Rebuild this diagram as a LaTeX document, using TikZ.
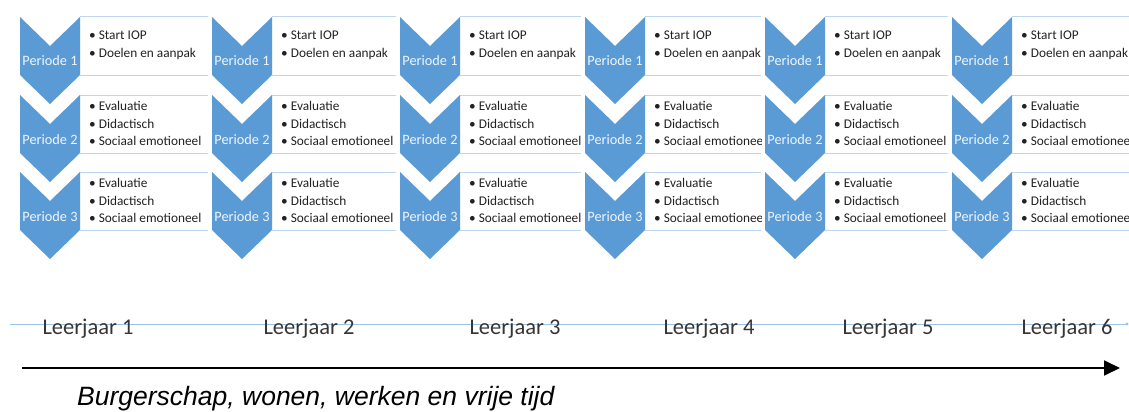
\documentclass[tikz,border=0pt]{standalone}
\usepackage{fontspec}
\setmainfont{Carlito}
\newfontfamily\arialfont{Liberation Sans}
\usetikzlibrary{arrows.meta}
\definecolor{chev}{HTML}{5B9BD5}
\definecolor{boxline}{HTML}{BDD7EE}
\definecolor{axisline}{HTML}{9DC3E6}
\definecolor{ptext}{HTML}{EEF5FC}
\definecolor{ltext}{HTML}{363636}
\definecolor{btext}{HTML}{222222}
\tikzset{
  chevshape/.style={fill=chev, draw=none},
  boxedge/.style={draw=boxline, line width=1pt},
  periodtext/.style={anchor=base, inner sep=0pt, text=ptext, font=\fontsize{14.3}{16}\selectfont},
  bullettext/.style={anchor=base west, inner sep=0pt, text=btext, font=\fontsize{13.3}{16}\selectfont},
  yeartext/.style={anchor=base, inner sep=0pt, text=ltext, font=\fontsize{22.5}{26}\selectfont},
  captiontext/.style={anchor=base west, inner sep=0pt, text=black, font=\arialfont\itshape\fontsize{26.5}{30}\selectfont},
}
\begin{document}
\begin{tikzpicture}[x=1pt,y=-1pt]
\useasboundingbox (0,0) rectangle (1129,412);
\fill[white] (0,0) rectangle (1129,412);
\foreach \L/\R [count=\c] in {20/208, 212/396, 400/581, 585/761, 765/948, 952/1129} {
  % boxes with texts
  \foreach \t/\r in {17/1, 95/2, 172/3} {
    \begin{scope}
      \clip (\L+60, \t-2) rectangle (\R, \t+60);
      \draw[boxedge] (\L+60,\t) -- (\R,\t);
      \draw[boxedge] (\L+60,\t+58) -- (\R,\t+58);
      \ifnum\r=1
        \node[bullettext] (b-\c-\r-1) at (\L+69,\t+23) {\textbullet{} Start IOP};
        \node[bullettext] (b-\c-\r-2) at (\L+69,\t+41) {\textbullet{} Doelen en aanpak};
      \else
        \node[bullettext] (b-\c-\r-1) at (\L+69,\t+15) {\textbullet{} Evaluatie};
        \node[bullettext] (b-\c-\r-2) at (\L+69,\t+33) {\textbullet{} Didactisch};
        \node[bullettext] (b-\c-\r-3) at (\L+69,\t+50) {\textbullet{} Sociaal emotioneel};
      \fi
    \end{scope}
    % chevron
    \fill[chevshape] (\L,\t) -- (\L+30,\t+29) -- (\L+60,\t) -- (\L+60,\t+58)
      -- (\L+30,\t+87) -- (\L,\t+58) -- cycle;
    \node[periodtext] (p-\c-\r) at (\L+30,\t+49) {Periode \r};
  }
}
% year axis
\coordinate (ls) at (10,324);
\coordinate (le) at (1127,324);
\draw[axisline, line width=1pt] (ls) -- (le);
\fill[axisline] (le) circle (1.6);
\foreach \x [count=\i] in {88, 309, 515, 709, 888, 1067} {
  \node[yeartext] (l\i) at (\x,334) {Leerjaar \i};
}
% black arrow
\coordinate (as) at (22,368);
\coordinate (ae) at (1120,368);
\draw[line width=1.8pt, -{Triangle[length=16pt,width=15pt]}] (as) -- (ae);
\node[captiontext] (cap) at (77,405) {Burgerschap, wonen, werken en vrije tijd};
\end{tikzpicture}
\end{document}
